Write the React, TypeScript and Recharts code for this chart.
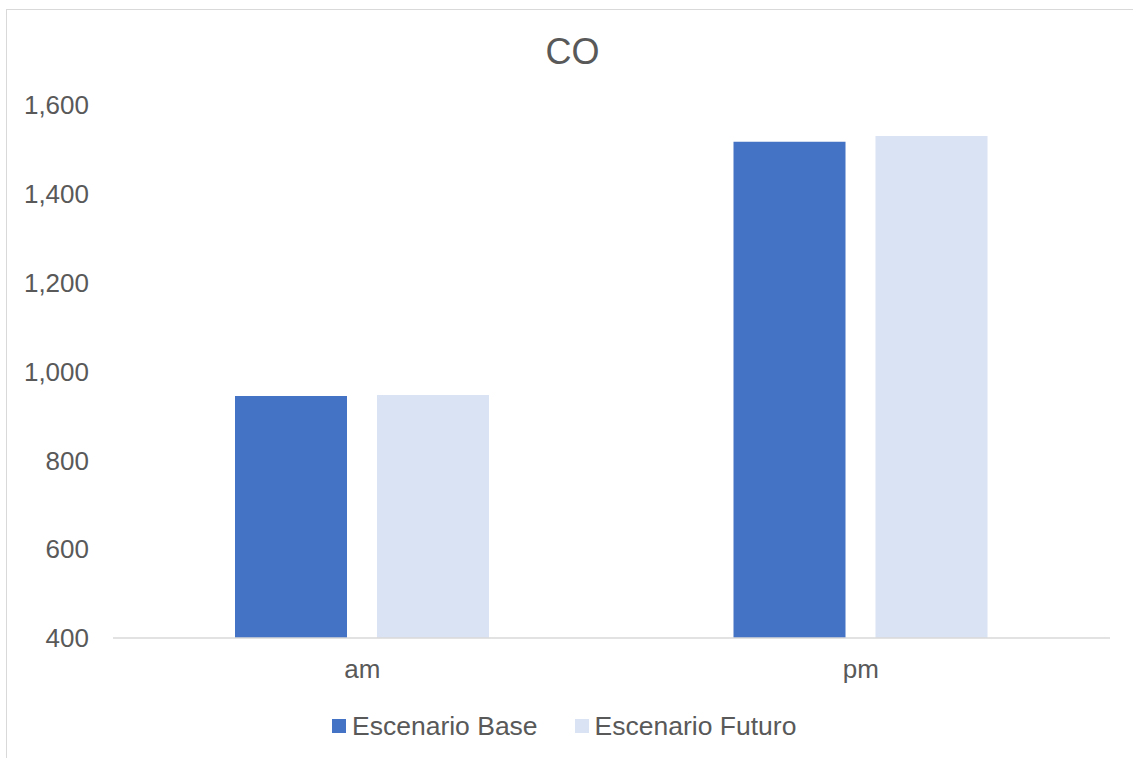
import React from "react";
import { BarChart, Bar, XAxis, YAxis } from "recharts";

const PERIODS = ["am", "pm"];
const BASE = [945, 1517];
const FUTURO = [947, 1530];
const Y_TICKS = [400, 600, 800, 1000, 1200, 1400, 1600];

const SERIES = [
  { key: "base", name: "Escenario Base", color: "#4472C4" },
  { key: "futuro", name: "Escenario Futuro", color: "#DAE3F3" },
];

const FONT = "'Liberation Sans', Arial, sans-serif";
const TEXT = "#595959";

const data = PERIODS.map((p, i) => ({ period: p, base: BASE[i], futuro: FUTURO[i] }));

export default function App() {
  return (
    <div style={{ position: "absolute", left: 0, top: 0, width: 1133, height: 758, overflow: "hidden", background: "#fff", fontFamily: FONT }}>
      {/* chart area frame */}
      <div style={{ position: "absolute", left: 6, top: 9, width: 1150, height: 770, border: "1px solid #d9d9d9", boxSizing: "border-box" }} />

      <div style={{ position: "absolute", left: 6, top: 34, width: 1133, textAlign: "center", fontSize: 36, lineHeight: "36px", color: TEXT }}>
        CO
      </div>

      <div style={{ position: "absolute", left: 0, top: 0 }}>
        <BarChart
          width={1133}
          height={758}
          data={data}
          margin={{ top: 105, right: 23, bottom: 90, left: 0 }}
          barSize={112}
          barGap={30}
        >
          <XAxis
            dataKey="period"
            height={30}
            axisLine={{ stroke: "#d9d9d9", strokeWidth: 1.5 }}
            tickLine={false}
            tickSize={0}
            tickMargin={22}
            tick={{ fontSize: 26, fill: TEXT, fontFamily: FONT }}
          />
          <YAxis
            width={113}
            domain={[400, 1600]}
            ticks={Y_TICKS}
            allowDataOverflow
            axisLine={false}
            tickLine={false}
            tickSize={0}
            tickMargin={24}
            tickFormatter={(v) => Number(v).toLocaleString("en-US")}
            tick={{ fontSize: 26, fill: TEXT, fontFamily: FONT }}
          />
          {SERIES.map((s) => (
            <Bar key={s.key} dataKey={s.key} name={s.name} fill={s.color} isAnimationActive={false} />
          ))}
        </BarChart>
      </div>

      <div style={{ position: "absolute", left: 332, top: 708, height: 36, display: "flex", alignItems: "center", fontSize: 26.5, color: TEXT }}>
        {SERIES.map((s, i) => (
          <div key={s.key} style={{ display: "flex", alignItems: "center", marginRight: i === 0 ? 37 : 0 }}>
            <span style={{ width: 14, height: 14, background: s.color, marginRight: 6, display: "inline-block" }} />
            <span>{s.name}</span>
          </div>
        ))}
      </div>
    </div>
  );
}
